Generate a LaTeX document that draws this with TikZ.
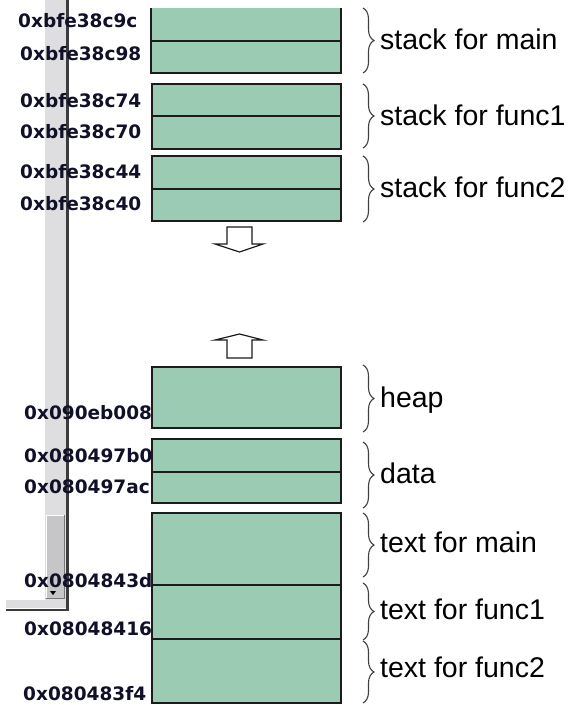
\documentclass[tikz,border=0pt]{standalone}
\usepackage{fontspec}
\setmainfont{Liberation Sans}
\newfontfamily\addrfont{DejaVu Sans}
\usetikzlibrary{decorations.pathreplacing}
\definecolor{memfill}{RGB}{156,203,179}
\definecolor{edgecol}{RGB}{28,28,28}
\definecolor{addrcol}{RGB}{16,16,40}
\definecolor{sbtrack}{RGB}{222,222,224}
\definecolor{sbthumb}{RGB}{198,198,200}
\definecolor{sbdark}{RGB}{60,60,60}
\begin{document}
\begin{tikzpicture}[x=1pt,y=-1pt,
  seg/.style={fill=memfill,draw=edgecol,line width=1.6pt},
  divline/.style={draw=edgecol,line width=1.6pt},
  brc/.style={draw=black!75,line width=1.1pt,decorate,decoration={brace,amplitude=11pt}},
  lbl/.style={anchor=base west,inner sep=0,font=\fontsize{28.5}{30}\selectfont},
  addr/.style={anchor=base west,inner sep=0,font=\addrfont\bfseries\fontsize{18.5}{20}\selectfont,text=addrcol},
  blockarrow/.style={draw=edgecol,fill=white,line width=1.2pt,line join=miter}]
\useasboundingbox (0,0) rectangle (578,705);
\fill[white] (0,0) rectangle (578,705);

% scrollbar remnant
\fill[sbtrack] (45,0) rectangle (66,600);
\fill[sbtrack] (6,600) rectangle (66,608);
\fill[sbthumb,draw=white,line width=0.8pt] (46,515) rectangle (64,598);
\draw[sbdark!70,line width=0.8pt] (64,515) -- (64,598) -- (46,598);
\fill[black] (50,591) -- (56,591) -- (53,595) -- cycle;
\draw[sbdark,line width=2.5pt] (67.5,0) -- (67.5,610) -- (6,610);

% stack for main (top cut off)
\fill[memfill] (151,8) rectangle (341,73);
\draw[divline] (151,8) -- (151,73) -- (341,73) -- (341,8);
\draw[divline] (151,41) -- (341,41);
% stack for func1
\draw[seg] (152,84) rectangle (341,149);
\draw[divline] (152,116) -- (341,116);
% stack for func2
\draw[seg] (152,156) rectangle (341,221);
\draw[divline] (152,189) -- (341,189);
% heap
\draw[seg] (152,367) rectangle (341,428);
% data
\draw[seg] (152,439) rectangle (341,503);
\draw[divline] (152,472) -- (341,472);
% text
\draw[seg] (152,513) rectangle (341,703);
\draw[divline] (152,585) -- (341,585);
\draw[divline] (152,639) -- (341,639);

% growth arrows
\draw[blockarrow] (227,227) -- (252,227) -- (252,244) -- (263,244) -- (239.5,252) -- (215,244) -- (227,244) -- cycle;
\draw[blockarrow] (227,358) -- (252,358) -- (252,340) -- (263,340) -- (239.5,334) -- (215,340) -- (227,340) -- cycle;

% braces
\draw[brc] (363,8) -- (363,73);
\draw[brc] (363,84) -- (363,148);
\draw[brc] (363,156) -- (363,222);
\draw[brc] (363,365) -- (363,432);
\draw[brc] (363,442) -- (363,508);
\draw[brc] (363,513) -- (363,577);
\draw[brc] (363,583) -- (363,640);
\draw[brc] (363,641) -- (363,703);

% labels
\node[lbl] (lmain) at (380,49) {stack for main};
\node[lbl] (lf1) at (380,125) {stack for func1};
\node[lbl] (lf2) at (380,197) {stack for func2};
\node[lbl] (lheap) at (380,407) {heap};
\node[lbl] (ldata) at (380,483) {data};
\node[lbl] (ltmain) at (380,552) {text for main};
\node[lbl] (ltf1) at (380,619) {text for func1};
\node[lbl] (ltf2) at (380,677) {text for func2};

% addresses
\node[addr] (a1) at (18,27) {0xbfe38c9c};
\node[addr] (a2) at (20,60) {0xbfe38c98};
\node[addr] (a3) at (20,107) {0xbfe38c74};
\node[addr] (a4) at (20,138) {0xbfe38c70};
\node[addr] (a5) at (20,178) {0xbfe38c44};
\node[addr] (a6) at (20,210) {0xbfe38c40};
\node[addr] (a7) at (24,419) {0x090eb008};
\node[addr] (a8) at (24,462) {0x080497b0};
\node[addr] (a9) at (24,493) {0x080497ac};
\node[addr] (a10) at (24,587) {0x0804843d};
\node[addr] (a11) at (24,635) {0x08048416};
\node[addr] (a12) at (23,700) {0x080483f4};
\end{tikzpicture}
\end{document}
